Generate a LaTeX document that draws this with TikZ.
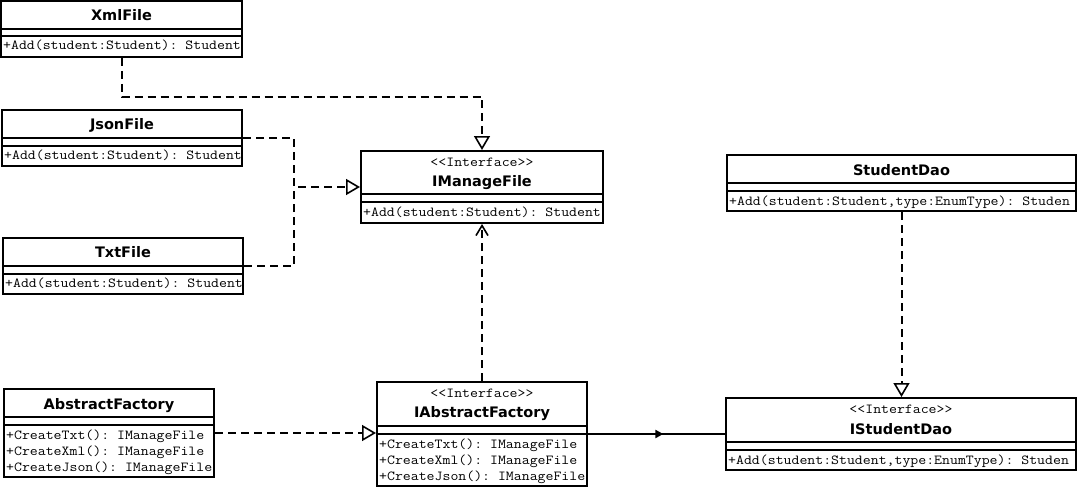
\documentclass[tikz,border=0pt]{standalone}
\usepackage{fontspec}
\setmainfont{DejaVu Sans}
\newfontfamily\umlsans{DejaVu Sans}
\newfontfamily\umlmono{lmmono12-regular.otf}[FakeStretch=1.115]
\usetikzlibrary{arrows.meta,fit,decorations.markings}
\frenchspacing

\tikzset{
  frame/.style={draw, line width=2pt, inner sep=0pt},
  divider/.style={line width=2pt},
  mtext/.style={anchor=base west, inner sep=0pt, font=\umlmono\fontsize{13.8}{16}\selectfont},
  stereo/.style={anchor=base, inner sep=0pt, font=\umlmono\fontsize{13.8}{16}\selectfont},
  ntext/.style={anchor=base, inner sep=0pt, font=\umlsans\bfseries\fontsize{14.5}{16}\selectfont},
  conn/.style={line width=2pt, dash pattern=on 8pt off 5pt},
  realize/.style={conn, -{Triangle[open, length=14pt, width=16pt, fill=white, line width=1.6pt]}},
  depend/.style={conn, -{Straight Barb[length=10pt, width=12pt, line width=1.6pt]}},
  assoc/.style={line width=2pt, postaction={decorate},
    decoration={markings, mark=at position 0.55 with {\arrow{Triangle[length=8pt, width=8pt]}}}},
}

% class box: name, left, top, right, bottom, first divider
\newcommand{\umlbox}[6]{%
  \coordinate (#1-nw) at (#2,#3);
  \coordinate (#1-se) at (#4,#5);
  \node[frame, fit=(#1-nw)(#1-se)] (#1) {};
  \draw[divider] (#2,#6) -- (#4,#6) (#2,#6+7.5) -- (#4,#6+7.5);
}

\begin{document}
\begin{tikzpicture}[x=1pt, y=-1pt]
\useasboundingbox (0,0) rectangle (1077,487);

% concrete file classes
\umlbox{xml}{1}{1}{242}{57}{29}
\node[ntext] (xml-n) at (121.5,20.5) {XmlFile};
\node[mtext] (xml-m) at (3,50) {+Add(student:Student): Student};

\umlbox{json}{2}{110}{242}{166}{138}
\node[ntext] (json-n) at (122,129.5) {JsonFile};
\node[mtext] (json-m) at (4,159) {+Add(student:Student): Student};

\umlbox{txt}{3}{238}{243}{294}{266}
\node[ntext] (txt-n) at (123,257.5) {TxtFile};
\node[mtext] (txt-m) at (5,287) {+Add(student:Student): Student};

% file interface
\umlbox{imf}{361}{151}{603}{223}{194}
\node[stereo] (imf-s) at (482,166.5) {<{}<Interface>{}>};
\node[ntext] (imf-n) at (482,186.5) {IManageFile};
\node[mtext] (imf-m) at (363,216) {+Add(student:Student): Student};

% data access
\umlbox{sd}{727}{155}{1076}{211}{183}
\node[ntext] (sd-n) at (901.5,175.5) {StudentDao};
\node[mtext] (sd-m) at (729,205) {+Add(student:Student,type:EnumType): Studen};

\umlbox{isd}{726}{398}{1076}{470}{442}
\node[stereo] (isd-s) at (901,413.5) {<{}<Interface>{}>};
\node[ntext] (isd-n) at (901,434.5) {IStudentDao};
\node[mtext] (isd-m) at (728,464) {+Add(student:Student,type:EnumType): Studen};

% factories
\umlbox{af}{4}{389}{214}{477}{417}
\node[ntext] (af-n) at (109,409.5) {AbstractFactory};
\node[mtext] (af-m1) at (6,439) {+CreateTxt(): IManageFile};
\node[mtext] (af-m2) at (6,455) {+CreateXml(): IManageFile};
\node[mtext] (af-m3) at (6,471) {+CreateJson(): IManageFile};

\umlbox{iaf}{377}{382}{587}{486}{426}
\node[stereo] (iaf-s) at (482,397.5) {<{}<Interface>{}>};
\node[ntext] (iaf-n) at (482,417.5) {IAbstractFactory};
\node[mtext] (iaf-m1) at (379,448) {+CreateTxt(): IManageFile};
\node[mtext] (iaf-m2) at (379,464) {+CreateXml(): IManageFile};
\node[mtext] (iaf-m3) at (379,480) {+CreateJson(): IManageFile};

% relations
\coordinate (jt) at (294,187);
\draw[realize] (xml.south) -- ++(0,39) -| (imf.north);
\draw[realize] (json.east) -| (jt) -- (imf.west);
\draw[conn] (txt.east) -| (jt);
\draw[depend] (iaf.north) -- (imf.south);
\draw[realize] (af.east) -- (af.east -| iaf.west);
\draw[realize] (sd.south) -- (sd.south |- isd.north);
\draw[assoc] (iaf.east |- isd.west) -- (isd.west);
\end{tikzpicture}
\end{document}
